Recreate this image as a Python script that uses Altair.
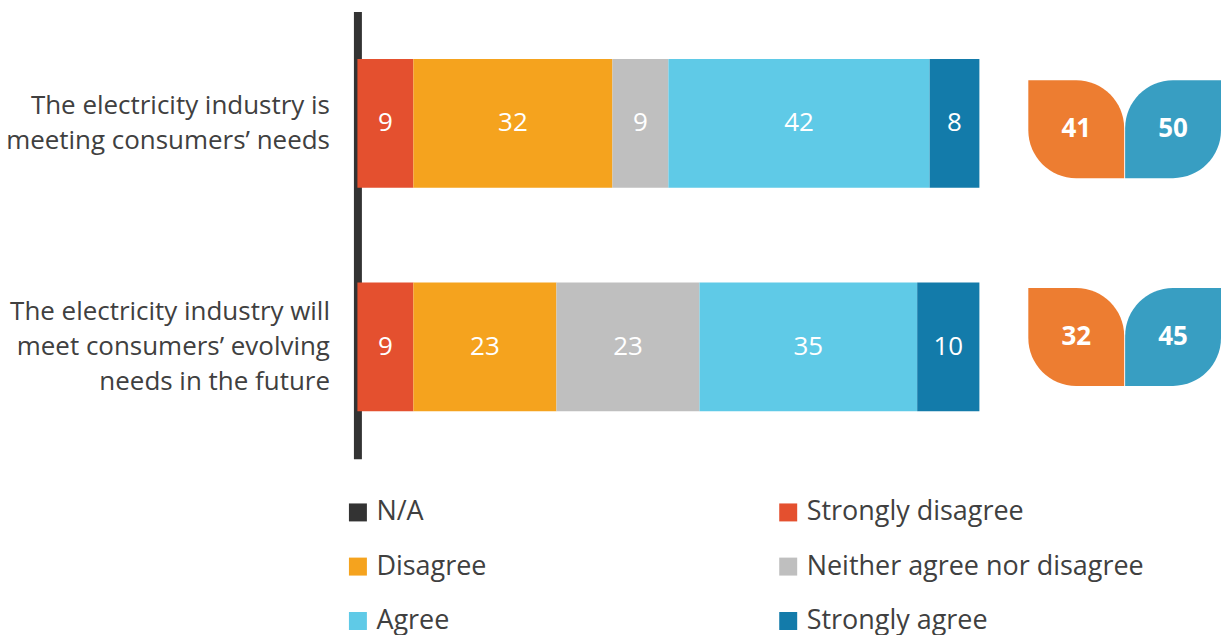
import altair as alt
import pandas as pd

FONT = "Open Sans"

questions = [
    "The electricity industry is|meeting consumers’ needs",
    "The electricity industry will|meet consumers’ evolving|needs in the future",
]
responses = ["N/A", "Strongly disagree", "Disagree",
             "Neither agree nor disagree", "Agree", "Strongly agree"]
colors = ["#333333", "#E4502F", "#F5A31E", "#BFBFBF", "#5FCAE7", "#137BAA"]
values_q1 = [0, 9, 32, 9, 42, 8]
values_q2 = [0, 9, 23, 23, 35, 10]

net_kinds = ["Disagree", "Agree"]
net_colors = ["#ED7D31", "#389EC2"]
net_q1 = [41, 50]
net_q2 = [32, 45]

rows = []
for q, vals in zip(questions, [values_q1, values_q2]):
    for i, (r, v) in enumerate(zip(responses, vals)):
        if v > 0:
            rows.append({"question": q, "response": r, "value": v, "order": i})
df = pd.DataFrame(rows)

net_rows = []
for q, vals in zip(questions, [net_q1, net_q2]):
    for k, v, c in zip(net_kinds, vals, net_colors):
        net_rows.append({"question": q, "kind": k, "value": v, "fill": c})
net_df = pd.DataFrame(net_rows)

LINE_H = 35
y_left = alt.Y(
    "question:N", sort=questions,
    scale=alt.Scale(paddingInner=0.424, paddingOuter=0.212),
    axis=alt.Axis(
        title=None, labelExpr="split(datum.label, '|')",
        labelFont=FONT, labelFontSize=26, labelColor="#404040",
        labelLineHeight=LINE_H, labelPadding=28, ticks=False, tickSize=0,
        domainColor="#333333", domainWidth=8, labelAlign="right",
        labelBaseline="middle", labelLimit=500,
        labelOffset={
            "condition": {"test": "length(split(datum.label, '|')) > 2",
                          "value": -LINE_H},
            "value": -LINE_H / 2,
        },
    ),
)

base = alt.Chart(df).transform_stack(
    stack="value", groupby=["question"], as_=["x0", "x1"],
    sort=[alt.SortField("order")],
).transform_calculate(mid="(datum.x0 + datum.x1) / 2")

bars = base.mark_bar().encode(
    y=y_left,
    x=alt.X("x0:Q", scale=alt.Scale(domain=[0, 100], nice=False, zero=True), axis=None),
    x2="x1:Q",
    color=alt.Color(
        "response:N",
        scale=alt.Scale(domain=responses, range=colors),
        legend=alt.Legend(
            title=None, orient="none", legendX=-13, legendY=488, columns=2,
            direction="horizontal",
            symbolType="square", symbolSize=324, symbolStrokeWidth=0,
            labelFont=FONT, labelFontSize=27, labelColor="#404040",
            labelOffset=5, columnPadding=288, rowPadding=26.5, labelLimit=500,
        ),
    ),
)

texts = base.mark_text(color="white", fontSize=26, font=FONT).encode(
    y=alt.Y("question:N", sort=questions),
    x=alt.X("mid:Q"),
    text=alt.Text("value:Q"),
)

left = alt.layer(bars, texts).properties(width=623, height=448)

leaf_base = alt.Chart(net_df).encode(
    y=alt.Y("question:N", sort=questions,
            scale=alt.Scale(paddingInner=0.529, paddingOuter=0.341, align=0.486),
            axis=None),
    x=alt.X("kind:N", sort=net_kinds,
            scale=alt.Scale(paddingInner=0.01, paddingOuter=0), axis=None),
)
leaf_color = alt.Color("fill:N", scale=None)

orange = leaf_base.transform_filter(alt.datum.kind == "Disagree").mark_rect(
    cornerRadiusTopRight=48, cornerRadiusBottomLeft=48
).encode(color=leaf_color)
blue = leaf_base.transform_filter(alt.datum.kind == "Agree").mark_rect(
    cornerRadiusTopLeft=48, cornerRadiusBottomRight=48
).encode(color=leaf_color)
leaf_text = leaf_base.mark_text(
    color="white", fontSize=26, fontWeight="bold", font=FONT
).encode(text=alt.Text("value:Q"))

right = alt.layer(orange, blue, leaf_text).properties(width=193, height=448)

chart = alt.hconcat(left, right, spacing=49).resolve_scale(
    y="independent", x="independent"
).properties(
    padding={"left": 5, "top": 11, "right": 0, "bottom": 0},
    background="white",
).configure_view(stroke=None)

chart.save("out.html", embed_options={"renderer": "svg", "actions": False})
